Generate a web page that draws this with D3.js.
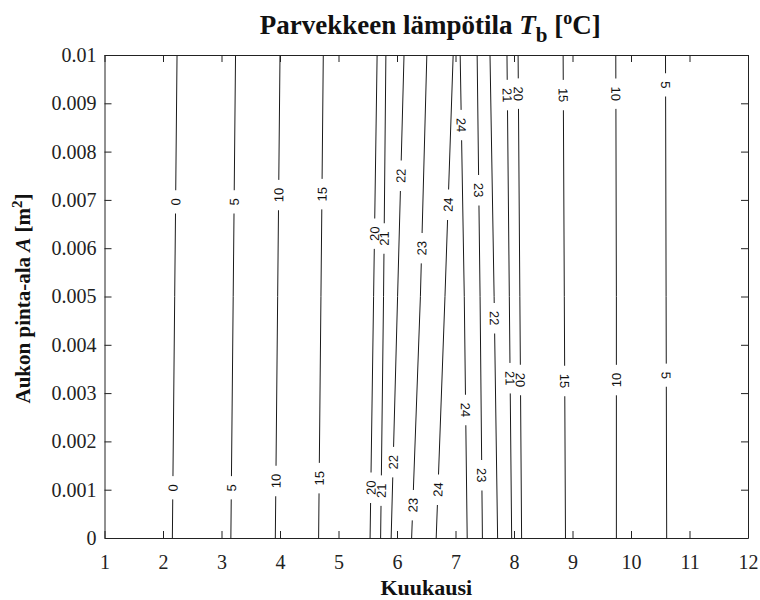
<!DOCTYPE html>
<html>
<head>
<meta charset="utf-8">
<script src="https://cdn.jsdelivr.net/npm/d3@7/dist/d3.min.js"></script>
<style>
body { margin: 0; background: #fff; }
</style>
</head>
<body>
<div id="chart"></div>
<script>
(function() {

    // contour levels, left flank then right flank of the summer peak
    var levels = [0, 5, 10, 15, 20, 21, 22, 23, 24, 24, 23, 22, 21, 20, 15, 10, 5];
    // opening area values where the month of each line was read
    var areaPoints = [0, 0.005, 0.01];
    // month position of each contour line at the area values above
    var monthAtArea = [
        [2.16, 2.20, 2.24],
        [3.16, 3.20, 3.24],
        [3.92, 3.96, 4.00],
        [4.66, 4.70, 4.74],
        [5.54, 5.60, 5.66],
        [5.72, 5.77, 5.81],
        [5.90, 6.01, 6.12],
        [6.25, 6.40, 6.51],
        [6.67, 6.82, 6.96],
        [7.20, 7.15, 7.08],
        [7.46, 7.42, 7.37],
        [7.72, 7.66, 7.59],
        [7.96, 7.92, 7.88],
        [8.13, 8.10, 8.07],
        [8.88, 8.86, 8.84],
        [9.75, 9.75, 9.74],
        [10.61, 10.60, 10.59]
    ];
    // area values where the labels sit on each line
    var labelArea = [
        [0.00104, 0.00696],
        [0.00104, 0.00696],
        [0.00118, 0.0071],
        [0.00124, 0.00712],
        [0.00104, 0.0063],
        [0.00098, 0.0062],
        [0.00157, 0.0075],
        [0.00068, 0.0060],
        [0.00100, 0.0069],
        [0.00265, 0.00855],
        [0.00130, 0.0072],
        [0.00455],
        [0.00331, 0.00917],
        [0.00327, 0.0092],
        [0.00325, 0.00917],
        [0.00327, 0.0092],
        [0.00337, 0.00938]
    ];
    var xTicks = d3.range(1, 13);
    var yTicks = d3.range(0, 11).map(function(d) { return d / 1000; });
    var yTickLabels = ["0", "0.001", "0.002", "0.003", "0.004", "0.005", "0.006", "0.007", "0.008", "0.009", "0.01"];

    var width = 760;
    var height = 600;
    var left = 104.5, right = 748, top = 55, bottom = 538;

    var svg = d3.select("#chart").append("svg")
        .attr("width", width)
        .attr("height", height);

    var x = d3.scaleLinear().domain([1, 12]).range([left, right]);
    var y = d3.scaleLinear().domain([0, 0.01]).range([bottom, top]);

    var defs = svg.append("defs");
    var lineG = svg.append("g");
    var labelG = svg.append("g")
        .attr("font-family", "'Liberation Sans', Arial, sans-serif")
        .attr("font-size", 13)
        .attr("fill", "#111");

    var line = d3.line();

    levels.forEach(function(lev, i) {
        var monthOf = d3.scaleLinear().domain(areaPoints).range(monthAtArea[i]);
        var pts = areaPoints.map(function(a) { return [x(monthOf(a)), y(a)]; });

        var mask = defs.append("mask")
            .attr("id", "m" + i)
            .attr("maskUnits", "userSpaceOnUse")
            .attr("x", 0).attr("y", 0)
            .attr("width", width).attr("height", height);
        mask.append("rect")
            .attr("width", width).attr("height", height)
            .attr("fill", "#fff");

        labelArea[i].forEach(function(a) {
            var px = x(monthOf(a)), py = y(a);
            var dx = x(monthOf(a + 0.0005)) - x(monthOf(a - 0.0005));
            var dy = y(a + 0.0005) - y(a - 0.0005);
            var ang = Math.atan2(dy, dx) * 180 / Math.PI;
            if (ang < -90) ang += 180;
            if (ang > 90) ang -= 180;

            var t = labelG.append("text")
                .attr("text-anchor", "middle")
                .attr("dy", "0.36em")
                .attr("transform", "translate(" + px + "," + py + ") rotate(" + ang + ")")
                .text(lev);
            var len = t.node().getComputedTextLength();

            mask.append("rect")
                .attr("x", -len / 2 - 8)
                .attr("y", -6)
                .attr("width", len + 16)
                .attr("height", 12)
                .attr("fill", "#000")
                .attr("transform", "translate(" + px + "," + py + ") rotate(" + ang + ")");
        });

        lineG.append("path")
            .attr("d", line(pts))
            .attr("fill", "none")
            .attr("stroke", "#1a1a1a")
            .attr("stroke-width", 1)
            .attr("mask", "url(#m" + i + ")");
    });

    // box with inward ticks on every side
    var axisFont = "'Liberation Serif', 'Times New Roman', serif";

    var gx = svg.append("g")
        .attr("transform", "translate(0," + bottom + ")")
        .call(d3.axisBottom(x).tickValues(xTicks).tickSize(-7).tickSizeOuter(0).tickPadding(19)
            .tickFormat(d3.format("d")));
    var gxTop = svg.append("g")
        .attr("transform", "translate(0," + top + ")")
        .call(d3.axisTop(x).tickValues(xTicks).tickSize(-7).tickSizeOuter(0).tickFormat(""));
    var gy = svg.append("g")
        .attr("transform", "translate(" + left + ",0)")
        .call(d3.axisLeft(y).tickValues(yTicks).tickSize(-7).tickSizeOuter(0).tickPadding(8)
            .tickFormat(function(d, i) { return yTickLabels[i]; }));
    var gyRight = svg.append("g")
        .attr("transform", "translate(" + right + ",0)")
        .call(d3.axisRight(y).tickValues(yTicks).tickSize(-7).tickSizeOuter(0).tickFormat(""));

    [gx, gxTop, gy, gyRight].forEach(function(g) {
        g.selectAll("path, line").attr("stroke", "#222");
        g.selectAll("text")
            .attr("font-family", axisFont)
            .attr("font-size", 20)
            .attr("fill", "#222");
    });
    gx.selectAll("text").attr("dy", "0.6em");

    // title
    var title = svg.append("text")
        .attr("x", (left + right) / 2 + 4)
        .attr("y", 34)
        .attr("text-anchor", "middle")
        .attr("font-family", axisFont)
        .attr("font-weight", "bold")
        .attr("font-size", 27)
        .attr("fill", "#111");
    title.append("tspan").text("Parvekkeen lämpötila ");
    title.append("tspan").attr("font-style", "italic").text("T");
    title.append("tspan").attr("font-size", 21).attr("dy", 8).text("b");
    title.append("tspan").attr("dy", -8).text("  [");
    title.append("tspan").attr("font-size", 18).attr("dy", -10).text("o");
    title.append("tspan").attr("dy", 10).text("C]");

    svg.append("text")
        .attr("x", (left + right) / 2)
        .attr("y", 595)
        .attr("text-anchor", "middle")
        .attr("font-family", axisFont)
        .attr("font-weight", "bold")
        .attr("font-size", 22)
        .attr("fill", "#111")
        .text("Kuukausi");

    var ylab = svg.append("text")
        .attr("transform", "translate(30," + ((top + bottom) / 2 + 2) + ") rotate(-90)")
        .attr("text-anchor", "middle")
        .attr("font-family", axisFont)
        .attr("font-weight", "bold")
        .attr("font-size", 21)
        .attr("fill", "#111");
    ylab.append("tspan").text("Aukon pinta-ala ");
    ylab.append("tspan").attr("font-style", "italic").text("A");
    ylab.append("tspan").text(" [m");
    ylab.append("tspan").attr("font-size", 15).attr("dy", -8).text("2");
    ylab.append("tspan").attr("dy", 8).text("]");

})();
</script>
</body>
</html>
